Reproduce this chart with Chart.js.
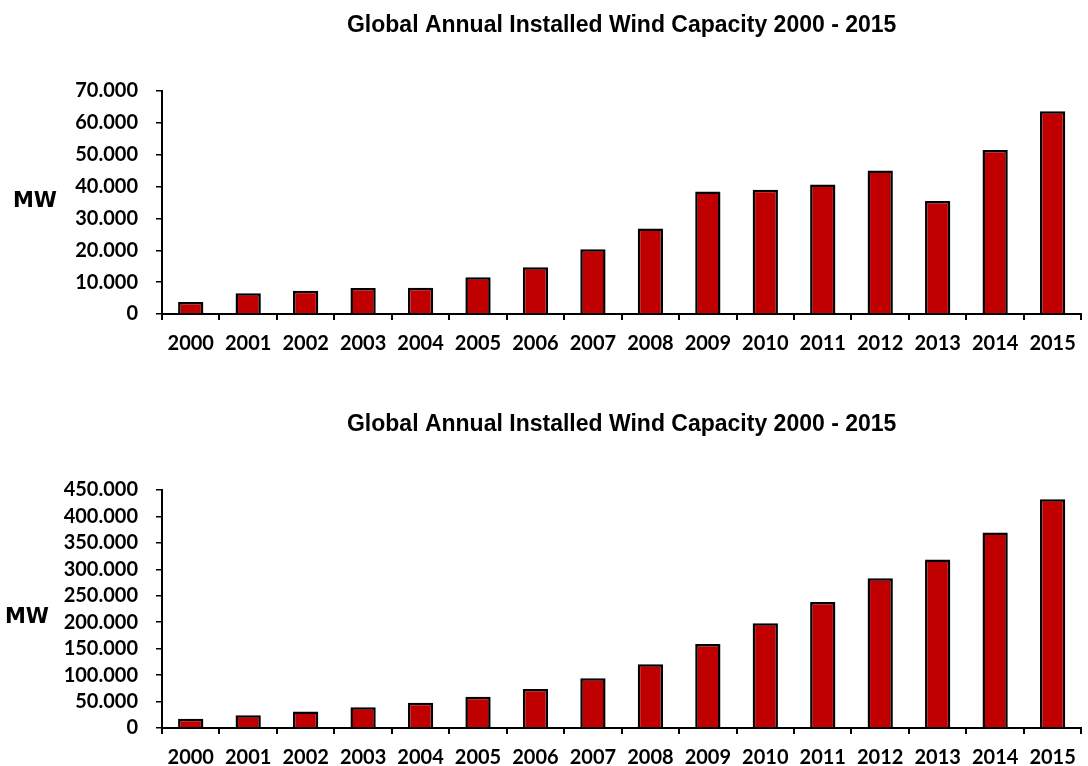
<!DOCTYPE html>
<html>
<head>
<meta charset="utf-8">
<title>Global Annual Installed Wind Capacity 2000 - 2015</title>
<script src="https://cdn.jsdelivr.net/npm/chart.js@4/dist/chart.umd.min.js"></script>
<style>
  html, body { margin: 0; padding: 0; background: #fff; width: 1088px; height: 766px; overflow: hidden; }
  .box { position: absolute; left: 0; width: 1088px; }
  #boxAnnual { top: 0; height: 373px; }
  #boxTotal { top: 383px; height: 420px; }
</style>
</head>
<body>
<div class="box" id="boxAnnual"><canvas id="annual" width="1088" height="373"></canvas></div>
<div class="box" id="boxTotal"><canvas id="total" width="1088" height="420"></canvas></div>
<script>
// Years on the category axis
const years = ['2000', '2001', '2002', '2003', '2004', '2005', '2006', '2007',
               '2008', '2009', '2010', '2011', '2012', '2013', '2014', '2015'];

// Newly installed wind capacity per year (MW)
const annualMW = [3760, 6500, 7270, 8133, 8207, 11531, 14703, 20310,
                  26850, 38475, 38989, 40624, 45030, 35467, 51477, 63633];

// Cumulative installed wind capacity at year end (MW)
const cumulativeMW = [17400, 23900, 31100, 39431, 47620, 59091, 73957, 93924,
                      120690, 159052, 198001, 238110, 283060, 318644, 369862, 432680];

// Value-axis ranges: [max, step]
const annualAxis = [70000, 10000];
const cumulativeAxis = [450000, 50000];

const chartTitle = 'Global Annual Installed Wind Capacity 2000 - 2015';
const unitLabel = 'MW';

const BAR_RED = '#C00000';
const TICK_FONT = { family: 'Lato', weight: 'bold', size: 20, lineHeight: 1.2 };
const TITLE_FONT = { family: '"Liberation Sans", Arial, sans-serif', weight: 'bold', size: 23, lineHeight: 1.2 };

// Thousands separated with dots, e.g. 70.000
function dotted(v) {
  return String(v).replace(/\B(?=(\d{3})+(?!\d))/g, '.');
}

// Horizontal unit label to the left of the value axis
const unitLabelPlugin = {
  id: 'unitLabel',
  afterDraw(chart, args, opts) {
    const ctx = chart.ctx;
    ctx.save();
    ctx.font = 'bold 21px "DejaVu Sans", sans-serif';
    ctx.fillStyle = '#000';
    ctx.textAlign = 'center';
    ctx.textBaseline = 'middle';
    ctx.fillText(opts.text, opts.x, opts.y);
    ctx.restore();
  }
};

function makeChart(id, values, axis, titlePad, bottomPad, unitPos) {
  return new Chart(document.getElementById(id), {
    type: 'bar',
    data: {
      labels: years,
      datasets: [{
        data: values,
        backgroundColor: BAR_RED,
        borderColor: '#000',
        borderWidth: 2.5,
        borderSkipped: 'bottom',
        barPercentage: 0.44,
        categoryPercentage: 1.0
      }]
    },
    options: {
      responsive: false,
      animation: false,
      events: [],
      layout: { padding: { left: 0, right: 3, top: 0, bottom: bottomPad } },
      plugins: {
        legend: { display: false },
        tooltip: { enabled: false },
        title: {
          display: true,
          text: chartTitle,
          color: '#000',
          font: TITLE_FONT,
          fullSize: false,
          padding: titlePad
        },
        unitLabel: { text: unitLabel, x: unitPos[0], y: unitPos[1] }
      },
      scales: {
        x: {
          grid: {
            display: true,
            offset: true,
            drawOnChartArea: false,
            drawTicks: true,
            tickLength: 6,
            color: '#000',
            lineWidth: 2
          },
          border: { display: true, color: '#000', width: 2 },
          ticks: { color: '#000', font: TICK_FONT, padding: 12, maxRotation: 0, autoSkip: false }
        },
        y: {
          min: 0,
          max: axis[0],
          afterFit(scale) { scale.width = 162; },
          grid: {
            display: true,
            drawOnChartArea: false,
            drawTicks: true,
            tickLength: 6,
            color: '#000',
            lineWidth: 1.5
          },
          border: { display: true, color: '#000', width: 2 },
          ticks: {
            stepSize: axis[1],
            autoSkip: false,
            color: '#000',
            font: TICK_FONT,
            padding: 18,
            callback: (v) => dotted(v)
          }
        }
      }
    },
    plugins: [unitLabelPlugin]
  });
}

makeChart('annual', annualMW, annualAxis, { top: 11.7, bottom: 51.7 }, 5, [35, 201.5]);
makeChart('total', cumulativeMW, cumulativeAxis, { top: 27.7, bottom: 51.7 }, 21, [27, 234.5]);
</script>
</body>
</html>
